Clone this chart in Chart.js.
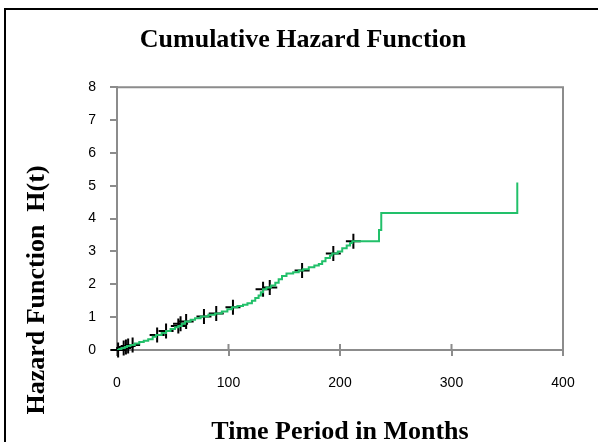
<!DOCTYPE html>
<html>
<head>
<meta charset="utf-8">
<script src="https://cdn.jsdelivr.net/npm/chart.js@4"></script>
<style>
  body { margin: 0; background: #fff; overflow: hidden; }
  #wrap { position: relative; width: 598px; height: 442px; }
  #frame { position: absolute; left: 4px; top: 8px; width: 600px; height: 440px;
           border: 2px solid #000; pointer-events: none; }
  canvas { position: absolute; left: 0; top: 0; }
</style>
</head>
<body>
<div id="wrap">
  <canvas id="chart" width="598" height="442"></canvas>
  <div id="frame"></div>
</div>
<script>
// cumulative hazard estimate (step function), months vs H(t)
const hazardMonths = [0, 2, 4, 7, 9, 12, 16, 20, 24, 28, 32, 35, 40, 44, 48, 52, 55, 58, 61, 66,
  70, 75, 82, 88, 94, 99, 103, 108, 113, 117, 121, 124, 127, 129, 131, 134, 138, 142, 145, 148,
  152, 158, 163, 167, 172, 177, 181, 184, 187, 191, 193, 198, 202, 206, 209, 211, 235, 237, 359];
const hazardValues = [0, 0.03, 0.06, 0.09, 0.12, 0.15, 0.2, 0.24, 0.28, 0.33, 0.4, 0.46, 0.52, 0.58, 0.64, 0.69, 0.73, 0.8, 0.87, 0.92,
  0.97, 1.02, 1.07, 1.11, 1.17, 1.24, 1.3, 1.34, 1.38, 1.42, 1.5, 1.58, 1.66, 1.76, 1.85, 1.9, 1.96, 2.05, 2.15, 2.25,
  2.33, 2.37, 2.42, 2.46, 2.52, 2.57, 2.62, 2.7, 2.8, 2.88, 2.94, 3.0, 3.1, 3.18, 3.26, 3.31, 3.65, 4.17, 5.1];

// censored observations (+ marks)
const censorMonths = [1, 6, 8, 10, 14, 36, 44, 55, 57, 62, 78, 89, 104, 131, 137, 166, 194, 212];
const censorValues = [0, 0.06, 0.09, 0.12, 0.15, 0.46, 0.58, 0.73, 0.8, 0.87, 1.02, 1.11, 1.3, 1.85, 1.9, 2.42, 2.94, 3.31];

const xTicks = [0, 100, 200, 300, 400];
const yTicks = [0, 1, 2, 3, 4, 5, 6, 7, 8];

const axisGrey = '#8c8c8c';
const lineGreen = 'rgb(34, 192, 106)';
const serif = '"Liberation Serif", "Times New Roman", serif';

const hazardPoints = hazardMonths.map((t, i) => ({ x: t, y: hazardValues[i] }));
const censorPoints = censorMonths.map((t, i) => ({ x: t, y: censorValues[i] }));

// plot frame, inward x ticks and rotated y title
const extras = {
  id: 'extras',
  beforeDatasetsDraw(chart) {
    const { ctx, chartArea: a, scales: { x } } = chart;
    ctx.save();
    ctx.strokeStyle = axisGrey;
    ctx.lineWidth = 2;
    ctx.beginPath();
    ctx.moveTo(a.left, a.top);
    ctx.lineTo(a.right, a.top);
    ctx.lineTo(a.right, a.bottom);
    x.ticks.forEach(t => {
      const px = x.getPixelForValue(t.value);
      ctx.moveTo(px, a.bottom);
      ctx.lineTo(px, a.bottom - 6);
    });
    ctx.stroke();
    ctx.restore();
  },
  afterDraw(chart) {
    const ctx = chart.ctx;
    ctx.save();
    ctx.translate(37, 290);
    ctx.rotate(-Math.PI / 2);
    ctx.font = 'bold 26px ' + serif;
    ctx.fillStyle = '#000';
    ctx.textAlign = 'center';
    ctx.textBaseline = 'middle';
    ctx.fillText('Hazard Function  H(t)', 0, 0);
    ctx.restore();
  }
};

new Chart(document.getElementById('chart'), {
  type: 'scatter',
  data: {
    datasets: [{
      label: 'H(t)',
      data: hazardPoints,
      showLine: true,
      stepped: true,
      borderColor: lineGreen,
      borderWidth: 2,
      pointRadius: 0,
      fill: false
    }, {
      label: 'Censored',
      data: censorPoints,
      pointStyle: 'cross',
      pointRadius: 7.5,
      borderColor: '#000',
      backgroundColor: '#000',
      pointBorderWidth: 2,
      clip: false
    }]
  },
  options: {
    responsive: false,
    animation: false,
    layout: { padding: { left: 8, top: 0, right: 0, bottom: 0 } },
    plugins: {
      legend: { display: false },
      tooltip: { enabled: false },
      title: {
        display: true,
        text: 'Cumulative Hazard Function',
        color: '#000',
        font: { family: serif, size: 26, weight: 'bold' },
        padding: { top: 25, bottom: 31 }
      }
    },
    scales: {
      x: {
        type: 'linear',
        min: 0, max: 400,
        afterBuildTicks: s => { s.ticks = xTicks.map(v => ({ value: v })); },
        afterFit: s => { s.height = 92; },
        ticks: { color: '#000', padding: 19, font: { family: '"Liberation Sans", Arial, sans-serif', size: 14 } },
        grid: { drawOnChartArea: false, color: axisGrey, lineWidth: 2, tickLength: 6 },
        border: { color: axisGrey, width: 2 },
        title: {
          display: true,
          text: 'Time Period in Months',
          color: '#000',
          font: { family: serif, size: 26, weight: 'bold', lineHeight: 1 },
          padding: { top: 0, bottom: -3 }
        }
      },
      y: {
        type: 'linear',
        min: 0, max: 8,
        afterBuildTicks: s => { s.ticks = yTicks.map(v => ({ value: v })); },
        afterFit: s => { s.width = 109; },
        ticks: { color: '#000', padding: 14, font: { family: '"Liberation Sans", Arial, sans-serif', size: 14 } },
        grid: { drawOnChartArea: false, color: axisGrey, lineWidth: 2, tickLength: 7 },
        border: { color: axisGrey, width: 2 }
      },
      // empty right-hand axis, only keeps the space right of the plot
      yRight: {
        type: 'linear',
        position: 'right',
        min: 0, max: 8,
        afterFit: s => { s.width = 35; },
        ticks: { display: false },
        grid: { display: false },
        border: { display: false }
      }
    }
  },
  plugins: [extras]
});
</script>
</body>
</html>
